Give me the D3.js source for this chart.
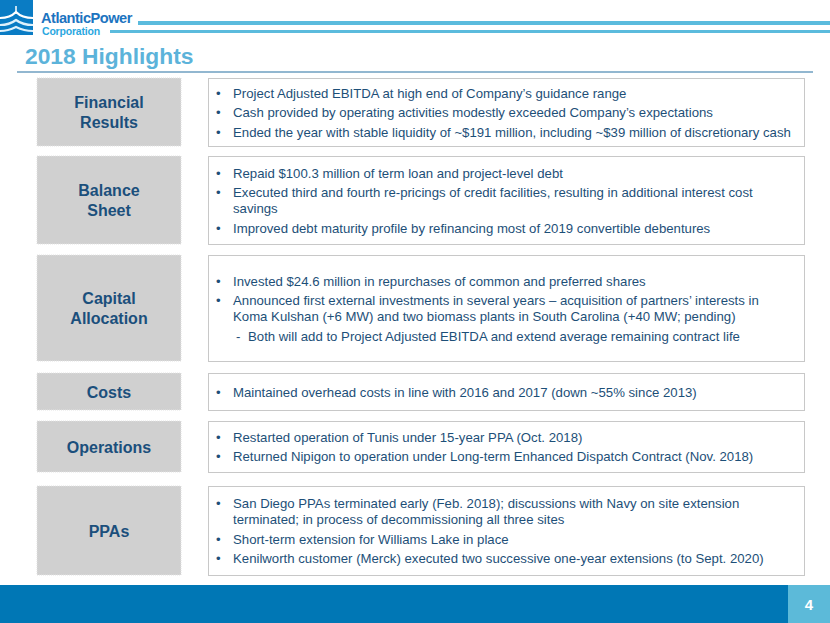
<!DOCTYPE html>
<html>
<head>
<meta charset="utf-8">
<script src="https://cdn.jsdelivr.net/npm/d3@7"></script>
<style>
  body { margin: 0; background: #fff; }
  svg { display: block; font-family: "Liberation Sans", Arial, sans-serif; }
</style>
</head>
<body>
<div id="slide"></div>
<script>
// section labels (left boxes)
const labels = [
    ['Financial', 'Results'],
    ['Balance', 'Sheet'],
    ['Capital', 'Allocation'],
    ['Costs'],
    ['Operations'],
    ['PPAs']
];

// bullet text per section, each bullet is a list of wrapped lines; sub = dash item
const bullets = [
    [
        {lines: ['Project Adjusted EBITDA at high end of Company\u2019s guidance range']},
        {lines: ['Cash provided by operating activities modestly exceeded Company\u2019s expectations']},
        {lines: ['Ended the year with stable liquidity of ~$191 million, including ~$39 million of discretionary cash']}
    ],
    [
        {lines: ['Repaid $100.3 million of term loan and project-level debt']},
        {lines: ['Executed third and fourth re-pricings of credit facilities, resulting in additional interest cost', 'savings']},
        {lines: ['Improved debt maturity profile by refinancing most of 2019 convertible debentures']}
    ],
    [
        {lines: ['Invested $24.6 million in repurchases of common and preferred shares']},
        {lines: ['Announced first external investments in several years \u2013 acquisition of partners\u2019 interests in', 'Koma Kulshan (+6 MW) and two biomass plants in South Carolina (+40 MW; pending)']},
        {lines: ['Both will add to Project Adjusted EBITDA and extend average remaining contract life'], sub: true}
    ],
    [
        {lines: ['Maintained overhead costs in line with 2016 and 2017 (down ~55% since 2013)']}
    ],
    [
        {lines: ['Restarted operation of Tunis under 15-year PPA (Oct. 2018)']},
        {lines: ['Returned Nipigon to operation under Long-term Enhanced Dispatch Contract (Nov. 2018)']}
    ],
    [
        {lines: ['San Diego PPAs terminated early (Feb. 2018); discussions with Navy on site extension', 'terminated; in process of decommissioning all three sites']},
        {lines: ['Short-term extension for Williams Lake in place']},
        {lines: ['Kenilworth customer (Merck) executed two successive one-year extensions (to Sept. 2020)']}
    ]
];

const title = '2018 Highlights';
const pageNum = '4';

// layout
const W = 830, H = 623;
const boxTop = [78, 156, 255, 373, 421, 486];
const boxBottom = [146, 244, 361, 410, 472, 575];
const leftX = 37, leftW = 144;
const rightX = 208, rightW = 596;
const wrapGap = 16, itemGap = 19.5;
const bodySize = 13.2;

const svg = d3.select('#slide')
    .append('svg')
    .attr('width', W)
    .attr('height', H);

// ---- header / logo ----
const logo = svg.append('g');
logo.append('rect')
    .attr('x', 0).attr('y', 0)
    .attr('width', 33).attr('height', 35)
    .attr('fill', '#0a7cc4');
// waves
[18, 25, 31].forEach((y, i) => {
    logo.append('path')
        .attr('d', `M0,${y} C8,${y} 12,${y - 2} 16,${y - 6 + i} C20,${y - 2} 24,${y} 33,${y}`)
        .attr('fill', 'none')
        .attr('stroke', i === 0 ? '#fff' : '#dff1fb')
        .attr('stroke-width', 2.2);
});
logo.append('path')
    .attr('d', 'M16,6 L16,14')
    .attr('stroke', '#fff').attr('stroke-width', 1.5);

svg.append('text')
    .attr('x', 41).attr('y', 23)
    .attr('font-size', 14.6)
    .attr('font-weight', 'bold')
    .attr('letter-spacing', -0.5)
    .attr('fill', '#1c74c0')
    .text('AtlanticPower');
svg.append('text')
    .attr('x', 42).attr('y', 35)
    .attr('font-size', 10.5)
    .attr('font-weight', 'bold')
    .attr('letter-spacing', -0.2)
    .attr('fill', '#2aa7df')
    .text('Corporation');

svg.append('rect').attr('x', 138).attr('y', 21).attr('width', W - 138).attr('height', 4).attr('fill', '#5bbbdd');
svg.append('rect').attr('x', 110).attr('y', 30).attr('width', W - 110).attr('height', 3).attr('fill', '#5bbbdd');

svg.append('text')
    .attr('x', 25).attr('y', 64)
    .attr('font-size', 22.8)
    .attr('font-weight', 'bold')
    .attr('fill', '#5cb3da')
    .text(title);

svg.append('line')
    .attr('x1', 17).attr('x2', 813)
    .attr('y1', 72).attr('y2', 72)
    .attr('stroke', '#6e9fc0')
    .attr('stroke-width', 1.5);

// ---- sections ----
const sections = svg.selectAll('g.section')
    .data(labels.map((l, i) => ({label: l, items: bullets[i], top: boxTop[i], bottom: boxBottom[i]})))
    .enter()
    .append('g')
    .attr('class', 'section');

sections.append('rect')
    .attr('x', leftX)
    .attr('y', d => d.top)
    .attr('width', leftW)
    .attr('height', d => d.bottom - d.top)
    .attr('fill', '#d0d0d0')
    .attr('stroke', '#e2e2e2')
    .attr('stroke-dasharray', '1,1');

sections.append('rect')
    .attr('x', rightX + 0.5)
    .attr('y', d => d.top + 0.5)
    .attr('width', rightW)
    .attr('height', d => d.bottom - d.top)
    .attr('fill', '#fff')
    .attr('stroke', '#c8c8c8')
    .attr('stroke-width', 1);

sections.each(function(d) {
    const g = d3.select(this);
    const mid = (d.top + d.bottom) / 2;
    const n = d.label.length;
    d.label.forEach((t, j) => {
        g.append('text')
            .attr('x', leftX + leftW / 2)
            .attr('y', mid + (j - (n - 1) / 2) * 19.5 + 6)
            .attr('text-anchor', 'middle')
            .attr('font-size', 16)
            .attr('font-weight', 'bold')
            .attr('fill', '#1b4f7c')
            .text(t);
    });

    // flatten bullet lines with vertical offsets
    const rows = [];
    let y = 0;
    d.items.forEach((it, k) => {
        if (k > 0) y += itemGap;
        it.lines.forEach((ln, m) => {
            if (m > 0) y += wrapGap;
            rows.push({text: ln, y: y, first: m === 0, sub: !!it.sub});
        });
    });
    const start = mid - y / 2;
    rows.forEach(r => {
        const ty = start + r.y + 5;
        if (r.first) {
            g.append('text')
                .attr('x', r.sub ? 236 : 216)
                .attr('y', ty)
                .attr('font-size', bodySize)
                .attr('fill', '#1d4f78')
                .text(r.sub ? '-' : '\u2022');
        }
        g.append('text')
            .attr('x', r.sub ? 248 : 233)
            .attr('y', ty)
            .attr('font-size', bodySize)
            .attr('fill', '#1d4f78')
            .text(r.text);
    });
});

// ---- footer ----
svg.append('rect')
    .attr('x', 0).attr('y', 585)
    .attr('width', W).attr('height', H - 585)
    .attr('fill', '#0077b5');
svg.append('rect')
    .attr('x', 788).attr('y', 585)
    .attr('width', W - 788).attr('height', H - 585)
    .attr('fill', '#5cbad9');
svg.append('text')
    .attr('x', 809).attr('y', 610)
    .attr('text-anchor', 'middle')
    .attr('font-size', 15)
    .attr('font-weight', 'bold')
    .attr('fill', '#fff')
    .text(pageNum);
</script>
</body>
</html>
